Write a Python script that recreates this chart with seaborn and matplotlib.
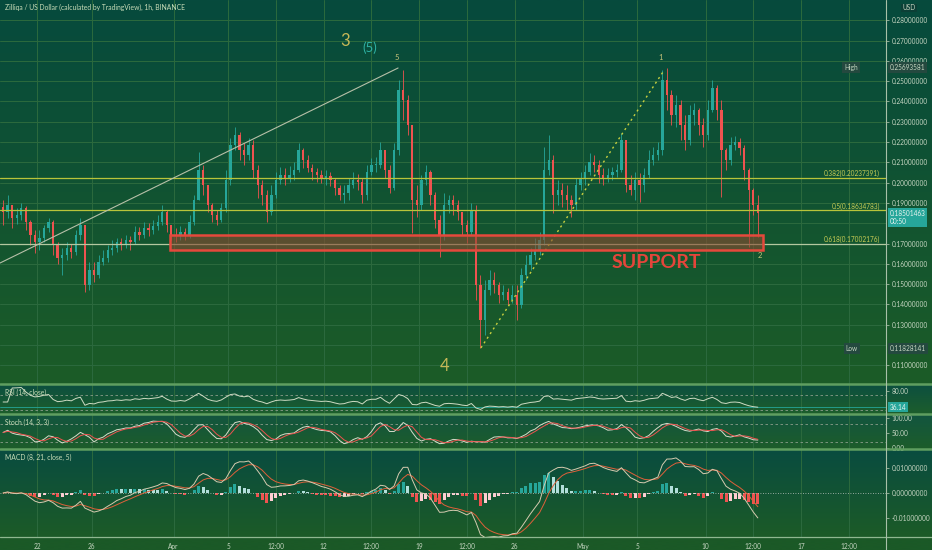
import numpy as np
import pandas as pd
import matplotlib
matplotlib.use("Agg")
import matplotlib.pyplot as plt
import matplotlib.dates as mdates
from matplotlib.patches import Rectangle
from matplotlib.lines import Line2D
import seaborn as sns

title = "Zilliqa / US Dollar (calculated by TradingView), 1h, BINANCE"

# 8h candles, first one opens 2021-03-19 08:00
candle_start = "2021-03-19 08:00"
first_open = 0.1880
closes = [0.1856, 0.1890, 0.1826, 0.1841, 0.1875, 0.1806, 0.1742, 0.1708, 0.1728, 0.1777,
          0.1806, 0.1693, 0.1629, 0.1644, 0.1678, 0.1659, 0.1742, 0.1792, 0.1496, 0.1570,
          0.1545, 0.1609, 0.1629, 0.1668, 0.1678, 0.1708, 0.1693, 0.1718, 0.1708, 0.1757,
          0.1742, 0.1777, 0.1767, 0.1787, 0.1806, 0.1856, 0.1792, 0.1742, 0.1737, 0.1757,
          0.1742, 0.1806, 0.1915, 0.2063, 0.1989, 0.1890, 0.1841, 0.1816, 0.1875, 0.2013,
          0.2186, 0.2235, 0.2161, 0.2136, 0.2186, 0.2063, 0.1989, 0.1939, 0.1856, 0.1939,
          0.2013, 0.2038, 0.2023, 0.2038, 0.2063, 0.2161, 0.2112, 0.2072, 0.2053, 0.2038,
          0.2023, 0.2033, 0.2013, 0.1974, 0.1939, 0.1949, 0.1989, 0.2013, 0.2003, 0.1939,
          0.2053, 0.2087, 0.2087, 0.2161, 0.2063, 0.1974, 0.2161, 0.2457, 0.2407, 0.2284,
          0.1915, 0.1890, 0.2013, 0.2053, 0.1939, 0.1816, 0.1742, 0.1890, 0.1915, 0.1890,
          0.1856, 0.1792, 0.1757, 0.1866, 0.1496, 0.1324, 0.1471, 0.1521, 0.1496, 0.1447,
          0.1462, 0.1422, 0.1447, 0.1398, 0.1545, 0.1595, 0.1644, 0.1668, 0.1718, 0.2063,
          0.2112, 0.1939, 0.1964, 0.1939, 0.1915, 0.1890, 0.1989, 0.2023, 0.2053, 0.2102,
          0.2087, 0.2038, 0.2023, 0.2038, 0.2053, 0.2063, 0.2210, 0.1989, 0.1964, 0.2013,
          0.1989, 0.2038, 0.2112, 0.2136, 0.2161, 0.2506, 0.2432, 0.2333, 0.2383, 0.2284,
          0.2210, 0.2333, 0.2358, 0.2284, 0.2235, 0.2358, 0.2467, 0.2358, 0.2161, 0.2112,
          0.2186, 0.2200, 0.2171, 0.2063, 0.1964, 0.1890, 0.1850]
highs = [0.1915, 0.1939, 0.1890, 0.1875, 0.1900, 0.1885, 0.1816, 0.1767, 0.1767, 0.1792,
         0.1826, 0.1816, 0.1708, 0.1678, 0.1708, 0.1698, 0.1767, 0.1826, 0.1767, 0.1609,
         0.1609, 0.1644, 0.1668, 0.1693, 0.1718, 0.1728, 0.1728, 0.1742, 0.1737, 0.1787,
         0.1782, 0.1806, 0.1801, 0.1816, 0.1841, 0.1890, 0.1866, 0.1787, 0.1777, 0.1787,
         0.1777, 0.1841, 0.1939, 0.2151, 0.2087, 0.1989, 0.1900, 0.1866, 0.1900, 0.2063,
         0.2220, 0.2274, 0.2250, 0.2196, 0.2220, 0.2210, 0.2087, 0.2013, 0.1964, 0.1989,
         0.2053, 0.2077, 0.2072, 0.2082, 0.2102, 0.2196, 0.2171, 0.2136, 0.2092, 0.2072,
         0.2063, 0.2063, 0.2053, 0.2023, 0.1989, 0.1989, 0.2023, 0.2053, 0.2043, 0.2023,
         0.2087, 0.2122, 0.2127, 0.2200, 0.2151, 0.2087, 0.2196, 0.2506, 0.2555, 0.2432,
         0.2260, 0.1989, 0.2038, 0.2087, 0.2063, 0.1954, 0.1841, 0.1949, 0.1939, 0.1939,
         0.1915, 0.1856, 0.1816, 0.1900, 0.1890, 0.1545, 0.1521, 0.1570, 0.1560, 0.1511,
         0.1496, 0.1481, 0.1496, 0.1496, 0.1580, 0.1644, 0.1678, 0.1728, 0.1757, 0.2176,
         0.2235, 0.2136, 0.2013, 0.1999, 0.1989, 0.1939, 0.2023, 0.2053, 0.2087, 0.2146,
         0.2136, 0.2112, 0.2072, 0.2072, 0.2077, 0.2092, 0.2245, 0.2210, 0.2038, 0.2053,
         0.2048, 0.2072, 0.2161, 0.2176, 0.2200, 0.2555, 0.2565, 0.2457, 0.2432, 0.2407,
         0.2333, 0.2383, 0.2393, 0.2368, 0.2319, 0.2407, 0.2506, 0.2481, 0.2407, 0.2171,
         0.2225, 0.2230, 0.2220, 0.2186, 0.2072, 0.1974, 0.1939]
lows = [0.1792, 0.1826, 0.1777, 0.1797, 0.1816, 0.1767, 0.1693, 0.1654, 0.1668, 0.1708,
        0.1757, 0.1644, 0.1600, 0.1545, 0.1619, 0.1629, 0.1644, 0.1718, 0.1462, 0.1471,
        0.1511, 0.1531, 0.1595, 0.1609, 0.1644, 0.1659, 0.1668, 0.1678, 0.1668, 0.1698,
        0.1718, 0.1728, 0.1737, 0.1747, 0.1767, 0.1792, 0.1757, 0.1718, 0.1708, 0.1718,
        0.1718, 0.1728, 0.1792, 0.1915, 0.1939, 0.1856, 0.1806, 0.1792, 0.1806, 0.1856,
        0.1989, 0.2161, 0.2112, 0.2087, 0.2112, 0.2023, 0.1925, 0.1890, 0.1806, 0.1841,
        0.1925, 0.1994, 0.1989, 0.2003, 0.2013, 0.2053, 0.2072, 0.2053, 0.2013, 0.2003,
        0.1999, 0.1989, 0.1984, 0.1939, 0.1915, 0.1900, 0.1915, 0.1974, 0.1964, 0.1900,
        0.1915, 0.2038, 0.2053, 0.2072, 0.2023, 0.1949, 0.1964, 0.2136, 0.2309, 0.2235,
        0.1752, 0.1831, 0.1866, 0.1989, 0.1890, 0.1777, 0.1634, 0.1718, 0.1851, 0.1841,
        0.1816, 0.1742, 0.1703, 0.1742, 0.1422, 0.1186, 0.1250, 0.1447, 0.1457, 0.1407,
        0.1422, 0.1398, 0.1407, 0.1324, 0.1383, 0.1521, 0.1570, 0.1619, 0.1644, 0.1693,
        0.2038, 0.1851, 0.1890, 0.1880, 0.1866, 0.1831, 0.1866, 0.1964, 0.1989, 0.2038,
        0.2053, 0.1999, 0.1989, 0.2003, 0.2013, 0.2028, 0.2053, 0.1954, 0.1939, 0.1915,
        0.1905, 0.1954, 0.2023, 0.2087, 0.2112, 0.2136, 0.2358, 0.2284, 0.2274, 0.2210,
        0.2161, 0.2186, 0.2284, 0.2235, 0.2176, 0.2210, 0.2348, 0.2309, 0.1930, 0.2063,
        0.2087, 0.2161, 0.2136, 0.2013, 0.1683, 0.1841, 0.1733]

fib_ratios = ["0.382", "0.5", "0.618"]
fib_prices = [0.20237391, 0.18634783, 0.17002176]

support_from = "2021-03-31 18:00"
support_to = "2021-05-14 05:00"
support_low = 0.1668
support_high = 0.1742

trend_dates = ["2021-03-19 06:30", "2021-04-17 11:00"]
trend_prices = [0.1604, 0.2565]
wave_dates = ["2021-04-23 12:45", "2021-05-06 21:00"]
wave_prices = [0.1186, 0.2545]

high_price = 0.25693581
low_price = 0.11828141
last_price = 0.18501463

# 0.12 and 0.18 sit under the Low / last-price boxes, as in the original
price_ticks = [0.11, 0.13, 0.14, 0.15, 0.16, 0.17, 0.19, 0.20,
               0.21, 0.22, 0.23, 0.24, 0.25, 0.26, 0.27, 0.28]
grid_prices = [0.11, 0.12, 0.13, 0.14, 0.15, 0.16, 0.17, 0.18, 0.19, 0.20,
               0.21, 0.22, 0.23, 0.24, 0.25, 0.26, 0.27, 0.28]
time_ticks = ["2021-03-22 00:00", "2021-03-26 00:00", "2021-04-01 00:00", "2021-04-05 00:00",
              "2021-04-08 12:00", "2021-04-12 00:00", "2021-04-15 12:00", "2021-04-19 00:00",
              "2021-04-22 12:00", "2021-04-26 00:00", "2021-05-01 00:00", "2021-05-05 00:00",
              "2021-05-10 00:00", "2021-05-13 12:00", "2021-05-17 00:00", "2021-05-20 12:00"]
time_labels = ["22", "26", "Apr", "5", "12:00", "12", "12:00", "19", "12:00", "26",
               "May", "5", "10", "12:00", "17", "12:00"]

# ---------------------------------------------------------------- data prep
t0 = pd.Timestamp(candle_start)
times = pd.date_range(t0, periods=len(closes), freq="8h")
df = pd.DataFrame({"high": highs, "low": lows, "close": closes}, index=times)
df["open"] = df["close"].shift(1).fillna(first_open)
df["high"] = df[["high", "open", "close"]].max(axis=1)
df["low"] = df[["low", "open", "close"]].min(axis=1)
xs = mdates.date2num(times + pd.Timedelta(hours=4))

# RSI (14)
delta = df["close"].diff()
gain = delta.clip(lower=0).ewm(alpha=1 / 14, adjust=False).mean()
loss = (-delta.clip(upper=0)).ewm(alpha=1 / 14, adjust=False).mean()
rsi = 100 - 100 / (1 + gain / loss.replace(0, np.nan))
rsi = rsi.fillna(50)
# Stoch (14, 3, 3)
ll = df["low"].rolling(14, min_periods=1).min()
hh = df["high"].rolling(14, min_periods=1).max()
raw_k = 100 * (df["close"] - ll) / (hh - ll)
stoch_k = raw_k.rolling(3, min_periods=1).mean()
stoch_d = stoch_k.rolling(3, min_periods=1).mean()
# MACD (8, 21, 5)
macd = df["close"].ewm(span=8, adjust=False).mean() - df["close"].ewm(span=21, adjust=False).mean()
signal = macd.ewm(span=5, adjust=False).mean()
hist = macd - signal

ind = pd.DataFrame({"x": xs, "rsi": rsi.values, "k": stoch_k.values, "d": stoch_d.values,
                    "macd": macd.values, "signal": signal.values, "hist": hist.values})

# ---------------------------------------------------------------- figure
sns.set_theme(style="dark", rc={"axes.facecolor": "none", "figure.facecolor": "#1b5927"})
plt.rcParams["font.family"] = ["Lato", "DejaVu Sans"]

W, H = 932, 550
AX_R = 886
fig = plt.figure(figsize=(W / 100, H / 100), dpi=100)

txt = "#c6d6c2"
grid_c = "#2c6a3e"
small = 4.7


def to_num(ts):
    return mdates.date2num(pd.to_datetime(ts, format="%Y-%m-%d %H:%M"))


def band(y0, y1, top, bottom):
    b = fig.add_axes([0, 1 - y1 / H, 1, (y1 - y0) / H])
    c0 = np.array(matplotlib.colors.to_rgb(top))
    c1 = np.array(matplotlib.colors.to_rgb(bottom))
    f = np.linspace(0, 1, 200)[:, None]
    img = (c0 * (1 - f) + c1 * f)[:, None, :]
    b.imshow(img, aspect="auto", extent=[0, 1, 0, 1])
    b.set_axis_off()
    b.set_zorder(-5)


band(0, 384, "#064a3d", "#1c5c27")
band(384, 414, "#0c4f40", "#1d5e2c")
band(414, 449, "#125540", "#1d5d2a")
band(449, 537, "#094c40", "#1c5b27")
band(537, 550, "#1b5927", "#1b5927")

xmin = to_num("2021-03-19 06:33")
xmax = to_num("2021-05-23 05:30")
tick_x = to_num(time_ticks)


def panel(y0, y1):
    a = fig.add_axes([0, 1 - y1 / H, AX_R / W, (y1 - y0) / H])
    a.set_xlim(xmin, xmax)
    for s in a.spines.values():
        s.set_visible(False)
    a.set_xticks(tick_x)
    a.set_xticklabels([])
    a.tick_params(axis="x", length=0)
    for t in tick_x:
        a.axvline(t, color=grid_c, lw=0.7, zorder=0)
    a.yaxis.tick_right()
    a.tick_params(axis="y", colors=txt, labelsize=small, length=2.5, pad=1.5,
                  color="#a0b8a0", width=0.6)
    a.grid(False)
    return a


# main price panel
ax = panel(0, 384)
ax.set_ylim(0.1008, 0.29)
ax.set_yticks(price_ticks)
ax.set_yticklabels([f"{p:.8f}" for p in price_ticks])
for p in grid_prices:
    ax.axhline(p, color=grid_c, lw=0.7, zorder=0)

up = df["close"].values >= df["open"].values
cols = np.where(up, "#26a69a", "#ef5350")
ax.vlines(xs, df["low"], df["high"], colors=cols, lw=0.6, zorder=2)
body_lo = np.minimum(df["open"], df["close"])
body_h = np.maximum(np.abs(df["close"] - df["open"]), 0.0004)
ax.bar(xs, body_h, bottom=body_lo, width=0.17, color=cols, linewidth=0, zorder=2)

fib_colors = ["#b9c43a", "#b9c43a", "#b4c8a0"]
for r, p, c in zip(fib_ratios, fib_prices, fib_colors):
    ax.axhline(p, color=c, lw=0.9, zorder=3)
    ax.text(0.993, p + 0.0004, f"{r}({p:.8f})", transform=ax.get_yaxis_transform(),
            ha="right", va="bottom", fontsize=small, color="#c9cd55", zorder=5)

s0 = to_num(support_from)
s1 = to_num(support_to)
ax.add_patch(Rectangle((s0, support_low), s1 - s0, support_high - support_low,
                       facecolor="#8a4a30", alpha=0.6, edgecolor="none", zorder=4))
ax.add_patch(Rectangle((s0, support_low), s1 - s0, support_high - support_low,
                       facecolor="none", edgecolor="#e5493c", lw=1.8, zorder=4))

ax.plot(to_num(trend_dates), trend_prices, color="#b7c0a8", lw=0.8, zorder=3)
ax.plot(to_num(wave_dates), wave_prices, color="#c8d040", lw=1.0, ls=(0, (1.5, 2.5)), zorder=3)

ax.text(to_num("2021-05-06 09:00"), 0.1609, "SUPPORT", color="#e5453a", fontsize=14,
        fontweight="bold", ha="center", va="center", zorder=6)
ax.text(to_num("2021-04-13 14:00"), 0.2698, "3", color="#c6b857", fontsize=12, ha="center", va="center")
ax.text(to_num("2021-04-15 10:00"), 0.2664, "(5)", color="#2fb3a5", fontsize=9.5, ha="center", va="center")
ax.text(to_num("2021-04-17 09:00"), 0.2619, "5", color="#c4c27a", fontsize=5.5, ha="center", va="center")
ax.text(to_num("2021-05-06 17:00"), 0.2619, "1", color="#c4c27a", fontsize=5.5, ha="center", va="center")
ax.text(to_num("2021-05-13 23:00"), 0.1639, "2", color="#c4c27a", fontsize=5.5, ha="center", va="center")
ax.text(to_num("2021-04-20 21:00"), 0.1097, "4", color="#c6b857", fontsize=12, ha="center", va="center")

box = dict(boxstyle="square,pad=0.3", facecolor="#24493f", edgecolor="none")
ax.text(0.968, high_price, "High", transform=ax.get_yaxis_transform(), ha="right",
        va="center", fontsize=small, color=txt, bbox=box, zorder=7)
ax.text(0.968, low_price, "Low", transform=ax.get_yaxis_transform(), ha="right",
        va="center", fontsize=small, color=txt, bbox=box, zorder=7)
ax.text(1.004, high_price, f"{high_price:.8f}", transform=ax.get_yaxis_transform(), ha="left",
        va="center", fontsize=small, color=txt, bbox=box, zorder=7, clip_on=False)
ax.text(1.004, low_price, f"{low_price:.8f}", transform=ax.get_yaxis_transform(), ha="left",
        va="center", fontsize=small, color=txt, bbox=box, zorder=7, clip_on=False)
ax.text(1.004, last_price - 0.0022, f"{last_price:.8f}\n00:50", transform=ax.get_yaxis_transform(),
        ha="left", va="center", fontsize=small, color="#e8f4f0", linespacing=1.1, zorder=7,
        bbox=dict(boxstyle="square,pad=0.3", facecolor="#26a69a", edgecolor="none"), clip_on=False)

# RSI panel
ax_rsi = panel(384, 414)
ax_rsi.set_ylim(18, 98)
ax_rsi.set_yticks([80])
ax_rsi.set_yticklabels(["80.00"])
for lv in (70, 30):
    ax_rsi.axhline(lv, color="#8a9c8a", lw=0.6, ls=(0, (3, 3)))
ax_rsi.axhline(ind["rsi"].iloc[-1], color="#26a69a", lw=0.6)
sns.lineplot(data=ind, x="x", y="rsi", ax=ax_rsi, color="#cfdcc4", lw=0.7)
ax_rsi.text(1.004, ind["rsi"].iloc[-1], f"{ind['rsi'].iloc[-1]:.2f}", transform=ax_rsi.get_yaxis_transform(),
            ha="left", va="center", fontsize=small, color="#e8f4f0", clip_on=False,
            bbox=dict(boxstyle="square,pad=0.25", facecolor="#26a69a", edgecolor="none"))
ax_rsi.set_xlabel("")
ax_rsi.set_ylabel("")

# Stoch panel
ax_st = panel(414, 449)
ax_st.set_ylim(-3.5, 114)
ax_st.set_yticks([0, 50, 100])
ax_st.set_yticklabels(["0.00", "50.00", "100.00"])
for lv in (80, 20):
    ax_st.axhline(lv, color="#8a9c8a", lw=0.6, ls=(0, (3, 3)))
sns.lineplot(data=ind, x="x", y="k", ax=ax_st, color="#d6dccb", lw=0.7)
sns.lineplot(data=ind, x="x", y="d", ax=ax_st, color="#ef5350", lw=0.7)
ax_st.set_xlabel("")
ax_st.set_ylabel("")

# MACD panel
ax_m = panel(449, 537)
ax_m.set_ylim(-0.0176, 0.0176)
ax_m.set_yticks([-0.01, 0, 0.01])
ax_m.set_yticklabels(["-0.01000000", "0.00000000", "0.01000000"])
h = ind["hist"].values
rising = np.r_[True, np.diff(h) > 0]
hcols = np.where(h >= 0, np.where(rising, "#26a69a", "#b2dfdb"), np.where(rising, "#ffcdd2", "#ef5350"))
ax_m.bar(ind["x"], h, width=0.22, color=hcols, linewidth=0, zorder=2)
ax_m.axhline(0, color="#c0c8c0", lw=0.6, ls=(0, (1, 2)))
sns.lineplot(data=ind, x="x", y="signal", ax=ax_m, color="#e0603a", lw=0.7)
sns.lineplot(data=ind, x="x", y="macd", ax=ax_m, color="#d6cbb0", lw=0.7)
ax_m.set_xticklabels(time_labels)
ax_m.tick_params(axis="x", labelsize=small, colors=txt, length=2, pad=2, color="#a0b8a0", width=0.6)
ax_m.set_xlabel("")
ax_m.set_ylabel("")

# separators, axis line and labels
for y in (384, 414, 449):
    fig.add_artist(Line2D([0, 1], [1 - y / H] * 2, color="#5f9e60", lw=1.8, transform=fig.transFigure))
fig.add_artist(Line2D([0, 1], [1 - 537 / H] * 2, color="#8fb890", lw=0.9, transform=fig.transFigure))
fig.add_artist(Line2D([AX_R / W] * 2, [0, 1], color="#a8c0a8", lw=0.8, transform=fig.transFigure))

fig.text(5 / W, 1 - 7 / H, title, fontsize=4.9, color="#c8dcb8", va="center")
fig.text(5 / W, 1 - 392 / H, "RSI (14, close)", fontsize=4.9, color="#c8dcb8", va="center")
fig.text(5 / W, 1 - 422 / H, "Stoch (14, 3, 3)", fontsize=4.9, color="#c8dcb8", va="center")
fig.text(5 / W, 1 - 457 / H, "MACD (8, 21, close, 5)", fontsize=4.9, color="#c8dcb8", va="center")
fig.text(909 / W, 1 - 8 / H, "USD", fontsize=small, color=txt, ha="center", va="center",
         bbox=dict(boxstyle="square,pad=0.15", facecolor="#0c3f36", edgecolor="none"))

fig.savefig("out.png", dpi=100)
